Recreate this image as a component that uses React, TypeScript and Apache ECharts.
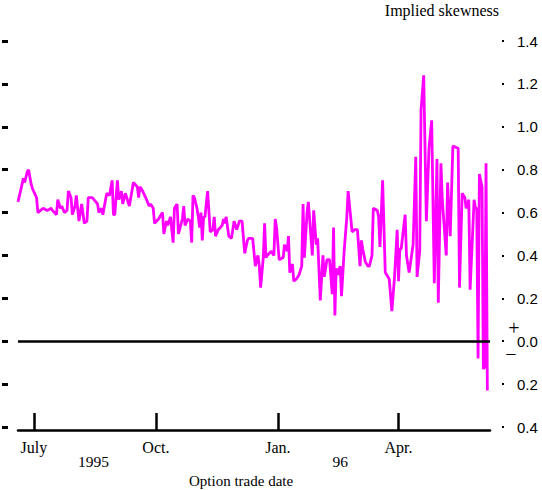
import React, { useEffect, useRef } from "react";
import * as echarts from "echarts";

// Trade dates given as day offsets from the first observation (1995-06-19)
const startDate = "1995-06-19";
const axisEndDate = "1996-06-09";
const dayOffsets = [
  0, 3, 4, 5, 7, 8, 10, 11, 14, 15,
  17, 19, 22, 25, 26, 29, 30, 32, 33, 35,
  37, 38, 40, 41, 43, 44, 46, 48, 50, 52,
  53, 56, 60, 61, 63, 64, 66, 67, 69, 71,
  72, 73, 75, 76, 78, 79, 81, 84, 87, 90,
  91, 92, 94, 97, 99, 100, 102, 103, 106, 109,
  110, 112, 113, 115, 117, 118, 120, 121, 124, 125,
  126, 128, 130, 131, 132, 133, 135, 136, 137, 138,
  139, 140, 141, 143, 145, 147, 148, 149, 151, 154,
  155, 156, 157, 159, 161, 163, 165, 167, 169, 171,
  173, 174, 177, 179, 180, 181, 182, 183, 185, 186,
  187, 188, 191, 193, 194, 195, 197, 200, 201, 203,
  204, 205, 207, 208, 210, 212, 214, 215, 216, 218,
  219, 222, 223, 225, 226, 228, 230, 231, 233, 235,
  237, 238, 239, 240, 241, 243, 244, 246, 248, 249,
  252, 254, 256, 258, 259, 260, 262, 264, 265, 267,
  268, 271, 272, 273, 275, 277, 280, 282, 284, 286,
  287, 288, 289, 292, 293, 295, 298, 300, 301, 303,
  304, 306, 308, 310, 312, 314, 316, 317, 319, 320,
  323, 324, 326, 328, 332, 333, 335, 337, 338, 340,
  341, 344, 345, 346, 347, 348, 350, 351, 352, 353, 354,
];
const skewness = [
  0.65, 0.73, 0.76, 0.74, 0.79, 0.8, 0.73, 0.71, 0.67, 0.6,
  0.61, 0.62, 0.61, 0.62, 0.61, 0.59, 0.66, 0.62, 0.63, 0.6,
  0.61, 0.7, 0.67, 0.59, 0.63, 0.68, 0.56, 0.64, 0.55, 0.56,
  0.67, 0.67, 0.64, 0.6, 0.62, 0.59, 0.66, 0.69, 0.68, 0.75,
  0.59, 0.59, 0.75, 0.66, 0.7, 0.64, 0.69, 0.63, 0.74, 0.72,
  0.67, 0.72, 0.7, 0.66, 0.63, 0.64, 0.62, 0.55, 0.57, 0.6,
  0.5, 0.56, 0.54, 0.58, 0.46, 0.62, 0.64, 0.5, 0.57, 0.63,
  0.54, 0.57, 0.56, 0.46, 0.68, 0.67, 0.62, 0.58, 0.53, 0.6,
  0.47, 0.58, 0.58, 0.7, 0.51, 0.52, 0.58, 0.49, 0.52, 0.54,
  0.57, 0.55, 0.58, 0.49, 0.48, 0.56, 0.52, 0.56, 0.56, 0.41,
  0.47, 0.48, 0.48, 0.35, 0.38, 0.4, 0.35, 0.25, 0.39, 0.55,
  0.39, 0.4, 0.42, 0.4, 0.57, 0.53, 0.38, 0.39, 0.45, 0.42,
  0.49, 0.32, 0.36, 0.28, 0.29, 0.31, 0.35, 0.64, 0.39, 0.6,
  0.65, 0.4, 0.61, 0.45, 0.48, 0.19, 0.4, 0.3, 0.38, 0.38,
  0.22, 0.53, 0.12, 0.34, 0.31, 0.35, 0.21, 0.42, 0.58, 0.7,
  0.51, 0.52, 0.52, 0.35, 0.47, 0.43, 0.37, 0.35, 0.35, 0.4,
  0.62, 0.61, 0.58, 0.44, 0.75, 0.32, 0.29, 0.14, 0.3, 0.52,
  0.28, 0.43, 0.43, 0.59, 0.4, 0.32, 0.45, 0.86, 0.3, 0.42,
  1.08, 1.24, 0.56, 0.9, 1.03, 0.27, 0.85, 0.18, 0.83, 0.66,
  0.4, 0.74, 0.49, 0.91, 0.9, 0.25, 0.69, 0.67, 0.62, 0.66,
  0.24, 0.66, 0.62, 0.62, -0.08, 0.78, 0.72, -0.13, -0.12, 0.83, -0.23,
];

const monthTickDates = ["1995-07-01", "1995-10-01", "1996-01-01", "1996-04-01"];
const monthTickLabels = ["July", "Oct.", "Jan.", "Apr."];
const yearLabelDates = ["1995-08-15", "1996-02-17"];
const yearLabels = ["1995", "96"];

const yMin = -0.4;
const yMax = 1.4;
const yStep = 0.2;

const DAY = 86400000;
function ts(s: string): number {
  const [y, m, d] = s.split("-").map(Number);
  return Date.UTC(y, m - 1, d);
}

function labelFor(dates: string[], labels: string[]) {
  const stamps = dates.map(ts);
  return (value: number) => {
    const i = stamps.findIndex((t) => Math.abs(t - value) < DAY / 2);
    return i >= 0 ? labels[i] : "";
  };
}

const SERIF = "'Liberation Serif', 'Times New Roman', serif";
const SANS = "'Liberation Sans', Arial, sans-serif";

export default function App() {
  const ref = useRef<HTMLDivElement>(null);

  useEffect(() => {
    if (!ref.current) return;
    const chart = echarts.init(ref.current, undefined, { renderer: "svg" });
    const start = ts(startDate);
    const n = Math.min(dayOffsets.length, skewness.length);
    const data: [number, number][] = [];
    for (let i = 0; i < n; i++) data.push([start + dayOffsets[i] * DAY, skewness[i]]);

    const xCommon = {
      type: "value" as const,
      min: start,
      max: ts(axisEndDate),
      gridIndex: 0,
      splitLine: { show: false },
      position: "bottom" as const,
      offset: 3,
    };

    const option: any = {
      animation: false,
      backgroundColor: "#ffffff",
      grid: {
        left: 18,
        right: 52,
        top: 41,
        bottom: 63,
        containLabel: false,
        outerBoundsMode: "none",
      },
      xAxis: [
        {
          ...xCommon,
          axisLine: { show: true, onZero: false, lineStyle: { color: "#000", width: 2.5 } },
          axisTick: {
            show: true,
            inside: true,
            length: 17,
            lineStyle: { color: "#000", width: 2.5 },
            customValues: monthTickDates.map(ts),
          },
          axisLabel: {
            show: true,
            margin: 9,
            color: "#000",
            fontFamily: SERIF,
            fontSize: 16,
            customValues: monthTickDates.map(ts),
            formatter: labelFor(monthTickDates, monthTickLabels),
            hideOverlap: false,
          },
        },
        {
          ...xCommon,
          axisLine: { show: false, onZero: false },
          axisTick: { show: false },
          axisLabel: {
            show: true,
            margin: 23,
            color: "#000",
            fontFamily: SERIF,
            fontSize: 15.5,
            customValues: yearLabelDates.map(ts),
            formatter: labelFor(yearLabelDates, yearLabels),
            hideOverlap: false,
          },
        },
      ],
      yAxis: [
        {
          type: "value",
          position: "right",
          offset: 12,
          min: yMin,
          max: yMax,
          interval: yStep,
          splitLine: { show: false },
          axisLine: { show: false, onZero: false },
          axisTick: { show: true, length: 2, lineStyle: { color: "#000", width: 2 } },
          axisLabel: {
            margin: 15,
            color: "#000",
            fontFamily: SANS,
            fontSize: 15,
            formatter: (v: number) => Math.abs(v).toFixed(1),
          },
        },
        {
          type: "value",
          position: "left",
          offset: 10,
          min: yMin,
          max: yMax,
          interval: yStep,
          splitLine: { show: false },
          axisLine: { show: false, onZero: false },
          axisTick: { show: true, length: 6, lineStyle: { color: "#000", width: 3 } },
          axisLabel: { show: false },
        },
      ],
      series: [
        {
          type: "line",
          xAxisIndex: 0,
          yAxisIndex: 0,
          data,
          showSymbol: false,
          symbol: "none",
          lineStyle: { color: "#ff00ff", width: 2.8 },
          itemStyle: { color: "#ff00ff" },
          markLine: {
            silent: true,
            symbol: "none",
            label: { show: false },
            lineStyle: { color: "#000", width: 2.5, type: "solid" },
            data: [{ yAxis: 0 }],
          },
        },
      ],
      graphic: [
        {
          type: "text",
          right: 43,
          top: 2,
          style: { text: "Implied skewness", font: `16px ${SERIF}`, fill: "#000" },
        },
        {
          type: "text",
          left: 189,
          top: 473,
          style: {
            text: "Option trade date",
            font: `15px ${SERIF}`,
            fill: "#000",
          },
        },
        {
          type: "text",
          x: 514,
          y: 328,
          style: {
            text: "+",
            font: `20px ${SERIF}`,
            fill: "#000",
            textAlign: "center",
            textVerticalAlign: "middle",
          },
        },
        {
          type: "text",
          x: 511,
          y: 354,
          style: {
            text: "\u2212",
            font: `20px ${SERIF}`,
            fill: "#000",
            textAlign: "center",
            textVerticalAlign: "middle",
          },
        },
      ],
    };
    chart.setOption(option);
    return () => chart.dispose();
  }, []);

  return (
    <div
      ref={ref}
      style={{ position: "fixed", left: 0, top: 0, width: 542, height: 490, background: "#fff" }}
    />
  );
}
